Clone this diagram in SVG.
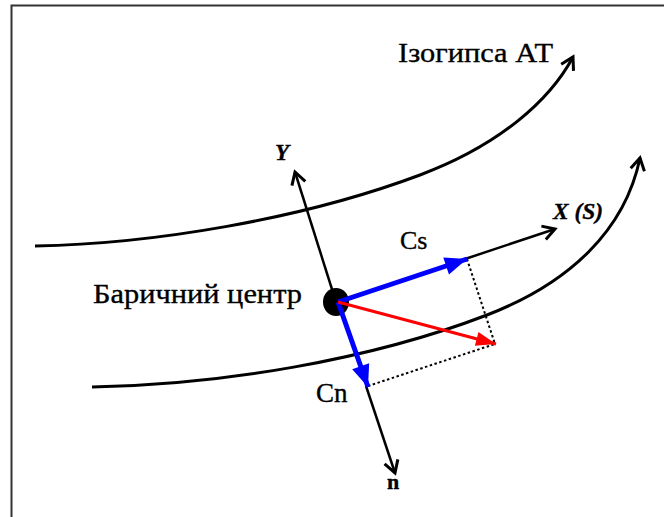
<svg xmlns="http://www.w3.org/2000/svg" width="664" height="517" viewBox="0 0 664 517">
<style>
.lbl{font-family:"Liberation Serif","Times New Roman","DejaVu Serif",serif;fill:#000;stroke:#000;stroke-width:0.35}
.ax{stroke:#000;stroke-width:2.5;fill:none}
.iso{stroke:#000;stroke-width:3;fill:none}
.dot{stroke:#000;stroke-width:2;stroke-dasharray:2.5 2.5;fill:none}
</style>
<defs>
<marker id="open" markerUnits="userSpaceOnUse" markerWidth="30" markerHeight="30" refX="0" refY="0" viewBox="-15 -15 30 30" orient="auto" overflow="visible">
<path d="M-12,-7 L0,0 L-12,7" fill="none" stroke="#000" stroke-width="3" stroke-linejoin="miter"/>
</marker>
<marker id="blueHead" markerUnits="userSpaceOnUse" markerWidth="30" markerHeight="30" refX="0" refY="0" viewBox="-25 -15 30 30" orient="auto" overflow="visible">
<path d="M-22,-9 L0,0 L-22,9 Z" fill="#0000ff"/>
</marker>
<marker id="redHead" markerUnits="userSpaceOnUse" markerWidth="30" markerHeight="30" refX="0" refY="0" viewBox="-25 -15 30 30" orient="auto" overflow="visible">
<path d="M-20,-7 L0,0 L-20,7 Z" fill="#ff0000"/>
</marker>
</defs>
<rect x="0" y="0" width="664" height="517" fill="#fff"/>
<path d="M11.5,517 L11.5,5.5 L670,5.5" fill="none" stroke="#333" stroke-width="2"/>
<g id="isohypse-upper">
<path class="iso" d="M35,246 C150,244 300,220 420,175 C500,145 550,100 573,57" marker-end="url(#open)"/>
</g>
<g id="isohypse-lower">
<path class="iso" d="M92,387 C220,385 370,360 487,315 C570,283 625,230 640,158" marker-end="url(#open)"/>
</g>
<g id="connectors">
<line class="ax" x1="336" y1="302" x2="295" y2="172" marker-end="url(#open)"/>
<line class="ax" x1="366" y1="386" x2="395" y2="473" marker-end="url(#open)"/>
<line class="ax" x1="465" y1="259" x2="555" y2="229" marker-end="url(#open)"/>
<line class="dot" x1="467" y1="259" x2="495" y2="344"/>
<line class="dot" x1="368" y1="386" x2="495" y2="344"/>
</g>
<g id="baric-center">
<ellipse cx="336" cy="302" rx="13" ry="14" fill="#000"/>
</g>
<g id="vectors">
<line x1="338" y1="302" x2="467" y2="259" stroke="#0000ff" stroke-width="5" marker-end="url(#blueHead)"/>
<line x1="338" y1="302" x2="368" y2="387" stroke="#0000ff" stroke-width="5" marker-end="url(#blueHead)"/>
<line x1="338" y1="302" x2="496" y2="344" stroke="#ff0000" stroke-width="3" marker-end="url(#redHead)"/>
</g>
<g id="labels">
<text class="lbl" x="398" y="62" font-size="27" textLength="155" lengthAdjust="spacingAndGlyphs">Ізогипса АТ</text>
<text class="lbl" x="93" y="303" font-size="27" textLength="209" lengthAdjust="spacingAndGlyphs">Баричний центр</text>
<text class="lbl" x="400" y="249" font-size="26">Cs</text>
<text class="lbl" x="316" y="402" font-size="27">Cn</text>
<text class="lbl" x="275" y="160" font-size="23" font-weight="bold" font-style="italic">Y</text>
<text class="lbl" x="553" y="219" font-size="23" font-weight="bold" font-style="italic" textLength="50" lengthAdjust="spacingAndGlyphs">X (S)</text>
<text class="lbl" x="387" y="489" font-size="22" font-weight="bold">n</text>
</g>
</svg>
